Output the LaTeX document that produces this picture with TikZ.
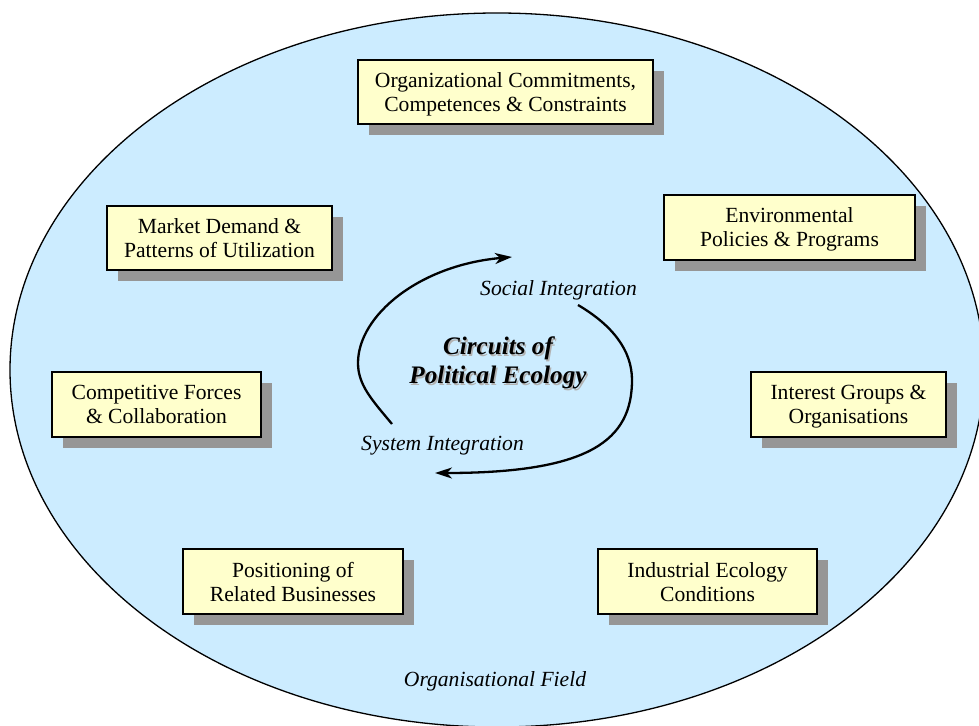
\documentclass[tikz,border=0pt]{standalone}
\usepackage{fontspec}
\setmainfont{Liberation Serif}
\usetikzlibrary{shadows,arrows.meta}

\definecolor{fieldblue}{HTML}{CCECFF}
\definecolor{boxyellow}{HTML}{FFFFCC}
\definecolor{shadowgrey}{HTML}{969696}

\newcommand{\labelfont}{\fontsize{21.6}{24}\selectfont}
\newcommand{\titlefont}{\fontsize{25.2}{29}\selectfont\bfseries\itshape}

\tikzset{
  factor/.style={draw=black, line width=1.4pt, fill=boxyellow, align=center,
    inner sep=0pt, text depth=-4pt, font=\labelfont,
    drop shadow={shadow xshift=10.5pt, shadow yshift=-10.5pt,
      fill=shadowgrey, opacity=1}},
  flowlabel/.style={font=\labelfont\itshape},
  circuit/.style={line width=2.3pt, -{Stealth[length=17pt, width=11pt, inset=5pt]}}
}

\begin{document}
\begin{tikzpicture}[x=1pt, y=-1pt]
  \clip (0,0) rectangle (979,725);
  % the organisational field
  \draw[fill=fieldblue, line width=1.3pt] (497,370) ellipse [x radius=487, y radius=357];

  % factors around the field
  \node[factor, minimum width=295pt, minimum height=64pt] (commit) at (505.5,92)
    {Organizational Commitments,\\Competences \& Constraints};
  \node[factor, minimum width=225pt, minimum height=64pt] (market) at (219.5,238)
    {Market Demand \&\\Patterns of Utilization};
  \node[factor, minimum width=251pt, minimum height=65pt] (policy) at (789.5,227.5)
    {Environmental\\Policies \& Programs};
  \node[factor, minimum width=209pt, minimum height=65pt] (compete) at (156.5,404.5)
    {Competitive Forces\\\& Collaboration};
  \node[factor, minimum width=195pt, minimum height=65pt] (interest) at (848.5,404.5)
    {Interest Groups \&\\Organisations};
  \node[factor, minimum width=220pt, minimum height=65pt] (related) at (293,581.5)
    {Positioning of\\Related Businesses};
  \node[factor, minimum width=219pt, minimum height=65pt] (industry) at (707.5,581.5)
    {Industrial Ecology\\Conditions};

  % centre title with its soft shadow
  \node[align=center, text=black!30, font=\titlefont]
    at (499.5,364.5) {Circuits of\\Political Ecology};
  \node[align=center, font=\titlefont] (title)
    at (498,363) {Circuits of\\Political Ecology};

  \node[flowlabel] (social) at (558.5,290) {Social Integration};
  \node[flowlabel] (system) at (442.5,446) {System Integration};
  \node[flowlabel] (field) at (495,681) {Organisational Field};

  % the two halves of the circuit
  \coordinate (sysStart) at (392,424);
  \coordinate (sysLeft) at (358,363);
  \coordinate (sysEnd) at (512,257);
  \coordinate (socStart) at (578,305);
  \coordinate (socRight) at (632,380);
  \coordinate (socEnd) at (435,473);
  \draw[circuit] (sysStart) .. controls (372,400) and (358,385) .. (sysLeft)
    .. controls (358,315) and (420,265) .. (sysEnd);
  \draw[circuit] (socStart) .. controls (612,325) and (632,350) .. (socRight)
    .. controls (632,440) and (590,473) .. (socEnd);
\end{tikzpicture}
\end{document}
